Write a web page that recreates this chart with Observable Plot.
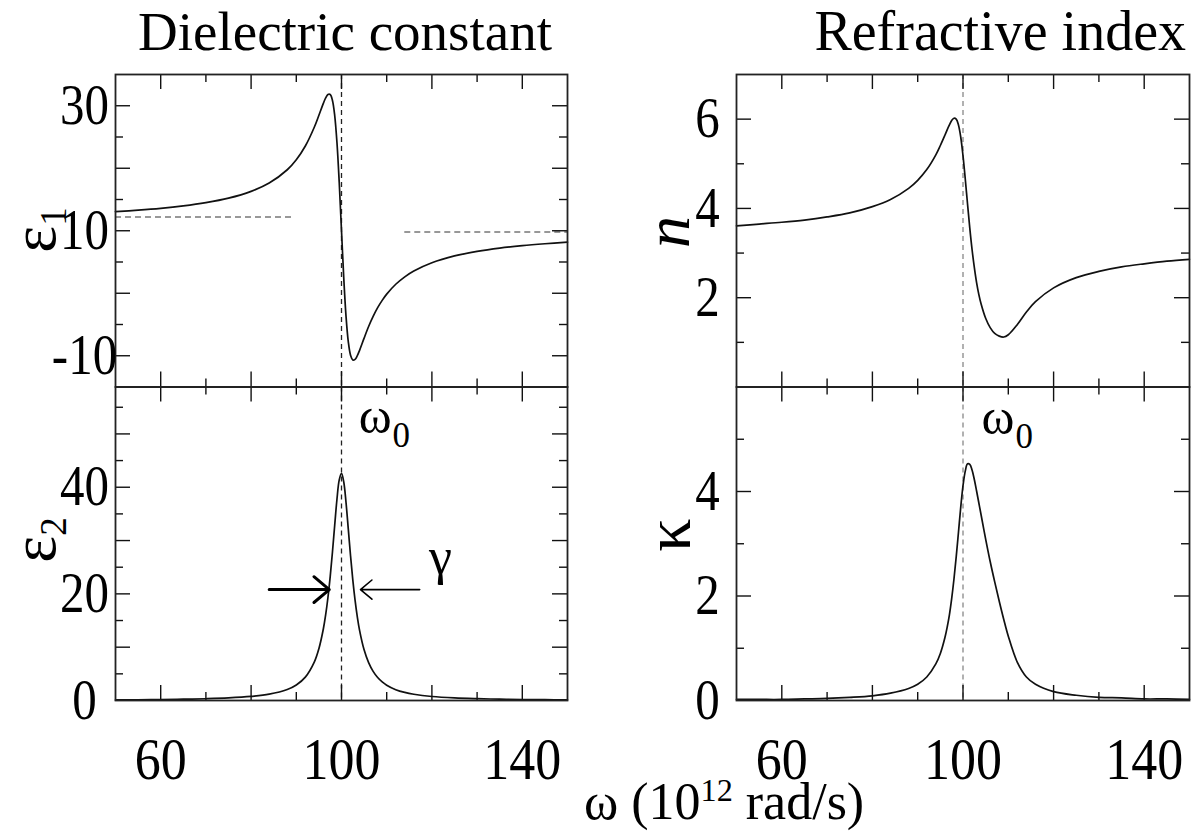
<!DOCTYPE html>
<html><head><meta charset="utf-8">
<script src="https://cdn.jsdelivr.net/npm/d3@7"></script>
<script src="https://cdn.jsdelivr.net/npm/@observablehq/plot@0.6"></script>
<style>
html,body{margin:0;padding:0;background:#fff;overflow:hidden;}
#fig{position:relative;width:1197px;height:832px;font-family:"Liberation Serif","Times New Roman",serif;color:#000;}
#fig svg{position:absolute;left:0;top:0;}
.lbl{position:absolute;white-space:nowrap;line-height:1;}
.rot{line-height:0.8;}
.sub{font-size:0.58em;position:relative;top:0.3em;}
.sup{font-size:0.62em;position:relative;top:-0.55em;}
</style></head><body><div id="fig"></div>
<script>
// angular frequency (10^12 rad/s)
const omega = [50,55,60,65,70,75,80,84,88,90,92,94,95,96,96.5,97,97.5,98,98.5,99,99.5,100,100.5,101,101.5,102,102.5,103,103.5,104,105,106,107,108,109,110,112,114,116,120,125,130,135,140,145,150];
// real part of dielectric constant
const eps1 = [13.06,13.29,13.58,13.97,14.49,15.21,16.30,17.63,19.76,21.36,23.56,26.60,28.48,30.41,31.25,31.80,31.80,30.85,28.43,24.07,17.68,10.00,2.43,-3.68,-7.74,-9.91,-10.69,-10.59,-9.99,-9.13,-7.18,-5.32,-3.70,-2.31,-1.14,-0.14,1.44,2.63,3.56,4.88,5.97,6.70,7.23,7.62,7.92,8.17];
// imaginary part of dielectric constant
const eps2 = [0.11,0.14,0.18,0.24,0.33,0.48,0.76,1.18,2.06,2.91,4.38,7.24,9.72,13.50,16.10,19.32,23.24,27.86,32.92,37.79,41.38,42.59,40.98,37.13,32.18,27.15,22.63,18.81,15.68,13.16,9.50,7.10,5.46,4.31,3.49,2.87,2.03,1.51,1.17,0.75,0.48,0.34,0.25,0.19,0.15,0.12];
// refractive index n
const nIdx = [3.61,3.65,3.69,3.74,3.81,3.90,4.04,4.20,4.45,4.63,4.87,5.20,5.41,5.64,5.76,5.87,5.97,6.02,6.00,5.87,5.60,5.18,4.66,4.10,3.56,3.08,2.68,2.34,2.07,1.86,1.54,1.33,1.20,1.14,1.12,1.17,1.40,1.68,1.91,2.22,2.45,2.59,2.69,2.76,2.82,2.86];
// extinction coefficient kappa
const kappa = [0.02,0.02,0.02,0.03,0.04,0.06,0.09,0.14,0.23,0.31,0.45,0.70,0.90,1.20,1.40,1.64,1.95,2.32,2.75,3.22,3.70,4.11,4.39,4.53,4.52,4.41,4.23,4.01,3.78,3.55,3.09,2.66,2.27,1.90,1.55,1.23,0.73,0.45,0.31,0.17,0.10,0.06,0.05,0.03,0.03,0.02];

// resonance frequency
const omega0 = [100];
// static and high-frequency dielectric constants (dashed guides)
const epsGuides = [{x1: 50, x2: 89, y: 12.2}, {x1: 114, x2: 150, y: 9.8}];
// gamma width arrows (on eps2 panel)
const gammaArrowIn = [{x1: 84, x2: 97.3, y: 20.8}];
const gammaArrowOut = [{x1: 117.3, x2: 104.2, y: 20.8}];
const gammaLabel = [{x: 121.9, y: 23.7, t: "γ"}];
const omega0LabelEps = [{x: 103.8, y: 50.1, t: "ω"}];
const omega0SubEps = [{x: 111.3, y: 47.5, t: "0"}];
const omega0LabelK = [{x: 104.1, y: 5.1, t: "ω"}];
const omega0SubK = [{x: 111.6, y: 4.84, t: "0"}];

// ticks
const xDomain = [50, 150];
const xTickLabels = [60, 100, 140];
const xMajor = [60, 80, 100, 120, 140];
const xMinor = [70, 90, 110, 130];
const eps1Domain = [-15, 35], eps1Labels = [30, 10, -10], eps1Major = [-10, 0, 10, 20, 30], eps1Minor = [-5, 5, 15, 25];
const eps2Domain = [0, 58.8], eps2Labels = [0, 20, 40], eps2Major = [10, 20, 30, 40, 50], eps2Minor = [5, 15, 25, 35, 45, 55];
const nDomain = [0, 7], nLabels = [2, 4, 6], nMajor = [2, 4, 6], nMinor = [1, 3, 5];
const kDomain = [0, 6], kLabels = [0, 2, 4], kMajor = [2, 4], kMinor = [1, 3, 5];

const W = 1197, H = 832;
const COL_L = [115, 567], COL_R = [736, 1189];
const ROW_T = [74, 386.5], ROW_B = [386.5, 700];
const serif = "'Liberation Serif','Times New Roman',serif";
const ink = "#111";

function panel(cfg) {
  const [x0, x1] = cfg.col, [y0, y1] = cfg.row;
  const PW = x1 - x0, PH = y1 - y0;
  const LM = 15, LN = 8;
  const marks = [
    Plot.ruleX(omega0, {stroke: cfg.dash, strokeWidth: 1.3, strokeDasharray: "5,4"}),
    ...(cfg.before || []),
    Plot.line(omega, {x: d => d, y: (d, i) => cfg.values[i], curve: "catmull-rom", stroke: ink, strokeWidth: 1.7}),
    Plot.tickX(xMajor, {insetTop: PH - LM, stroke: ink, strokeWidth: 1.4}),
    Plot.tickX(xMajor, {insetBottom: PH - LM, stroke: ink, strokeWidth: 1.4}),
    Plot.tickX(xMinor, {insetTop: PH - LN, stroke: ink, strokeWidth: 1.4}),
    Plot.tickX(xMinor, {insetBottom: PH - LN, stroke: ink, strokeWidth: 1.4}),
    Plot.tickY(cfg.yMajor, {insetRight: PW - LM, stroke: ink, strokeWidth: 1.4}),
    Plot.tickY(cfg.yMajor, {insetLeft: PW - LM, stroke: ink, strokeWidth: 1.4}),
    Plot.tickY(cfg.yMinor, {insetRight: PW - LN, stroke: ink, strokeWidth: 1.4}),
    Plot.tickY(cfg.yMinor, {insetLeft: PW - LN, stroke: ink, strokeWidth: 1.4}),
    Plot.frame({stroke: "#222", strokeWidth: 1.8}),
    Plot.axisY(cfg.yLabels, {anchor: "left", tickSize: 0, tickPadding: cfg.pad, textAnchor: "middle", fontSize: 49, fontFamily: serif, tickFormat: d => String(d), label: null}),
    ...(cfg.after || [])
  ];
  if (cfg.xAxis) marks.push(Plot.axisX(xTickLabels, {anchor: "bottom", tickSize: 0, tickPadding: 39, fontSize: 52, fontFamily: serif, tickFormat: d => String(d), label: null}));
  return Plot.plot({
    width: W, height: H,
    marginLeft: x0, marginRight: W - x1, marginTop: y0, marginBottom: H - y1,
    x: cfg.xAxis ? {domain: xDomain} : {domain: xDomain, axis: null},
    y: {domain: cfg.yDomain},
    style: "background:transparent;overflow:visible;color:#000;font-family:'Liberation Serif',serif;",
    marks
  });
}

// tick labels of the reference are slightly taller than wide: stretch them vertically about their centre
function stretchTickLabels(svg, k) {
  svg.querySelectorAll("g[aria-label$='tick label'] text").forEach(t => {
    const b = t.getBBox();
    const cy = b.y + b.height / 2;
    const tr = t.getAttribute("transform") || "";
    t.setAttribute("transform", `${tr} translate(0,${cy}) scale(1,${k}) translate(0,${-cy})`);
  });
}

const fig = document.getElementById("fig");
const txt = (data, size, anchor, extra = {}) => Plot.text(data, {x: "x", y: "y", text: "t", fontSize: size, fontFamily: serif, textAnchor: anchor, lineAnchor: "bottom", fill: "#000", ...extra});

const panels = [
  panel({col: COL_L, row: ROW_T, yDomain: eps1Domain, yLabels: eps1Labels, yMajor: eps1Major, yMinor: eps1Minor, values: eps1, dash: "#222", pad: 31,
    before: [Plot.ruleY(epsGuides, {y: "y", x1: "x1", x2: "x2", stroke: "#777", strokeWidth: 1.4, strokeDasharray: "6,4"})]}),
  panel({col: COL_L, row: ROW_B, yDomain: eps2Domain, yLabels: eps2Labels, yMajor: eps2Major, yMinor: eps2Minor, values: eps2, dash: "#222", pad: 31, xAxis: true,
    after: [
      Plot.arrow(gammaArrowIn, {x1: "x1", x2: "x2", y1: "y", y2: "y", stroke: "#000", strokeWidth: 3, headLength: 14, headAngle: 80}),
      Plot.arrow(gammaArrowOut, {x1: "x1", x2: "x2", y1: "y", y2: "y", stroke: "#000", strokeWidth: 1.6, headLength: 14, headAngle: 80}),
      txt(gammaLabel, 52, "middle"),
      txt(omega0LabelEps, 50, "start"),
      txt(omega0SubEps, 35, "start")
    ]}),
  panel({col: COL_R, row: ROW_T, yDomain: nDomain, yLabels: nLabels, yMajor: nMajor, yMinor: nMinor, values: nIdx, dash: "#888", pad: 29}),
  panel({col: COL_R, row: ROW_B, yDomain: kDomain, yLabels: kLabels, yMajor: kMajor, yMinor: kMinor, values: kappa, dash: "#888", pad: 29, xAxis: true,
    after: [txt(omega0LabelK, 50, "start"), txt(omega0SubK, 35, "start")]})
];
panels.forEach(p => { fig.append(p); stretchTickLabels(p, 1.15); });

function label(html, style, cls = "lbl") {
  const d = document.createElement("div");
  d.className = cls;
  d.innerHTML = html;
  d.setAttribute("style", style);
  fig.append(d);
}
label("Dielectric constant", "font-size:55px;left:345px;top:4px;transform:translateX(-50%);");
label("Refractive index", "font-size:56px;right:11px;top:3px;");
label("ω (10<span class='sup'>12</span> rad/s)", "font-size:52px;left:584px;top:776px;");
const rot = (cx, cy, fs) => `font-size:${fs}px;left:${cx}px;top:${cy}px;transform:translate(-50%,-50%) rotate(-90deg);`;
label("ε<span class='sub'>1</span>", rot(34, 230, 64), "lbl rot");
label("ε<span class='sub'>2</span>", rot(34, 540, 64), "lbl rot");
label("<i>n</i>", rot(668, 232, 64), "lbl rot");
label("κ", rot(668, 535, 66), "lbl rot");
</script>
</body></html>
